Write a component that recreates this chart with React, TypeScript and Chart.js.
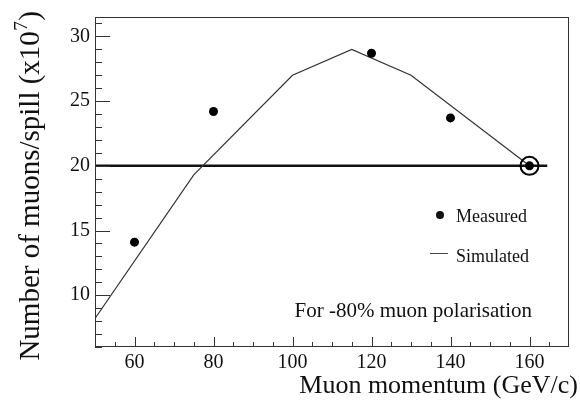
import React, { useEffect, useRef } from 'react';
import { Chart, registerables } from 'chart.js';
Chart.register(...registerables);

// ---- data ----
const simX = [50, 75, 100, 115, 130, 160];
const simY = [8.2, 19.3, 27, 29, 27, 20];
const measX = [60, 80, 120, 140, 160];
const measY = [14.1, 24.2, 28.7, 23.7, 20];
const refX = [50, 164.5];
const refY = [20, 20];
const markX = [160];
const markY = [20];
const xTicks = [60, 80, 100, 120, 140, 160];
const yTicks = [10, 15, 20, 25, 30];
const X_MIN = 50, X_MAX = 170, Y_MIN = 6, Y_MAX = 31.5;
const X_MINOR = 5, Y_MINOR = 1;
const xTitle = 'Muon momentum (GeV/c)';
const yTitleMain = 'Number of muons/spill (x10';
const yTitleSup = '7';
const yTitleEnd = ')';
const legendLabels = ['Measured', 'Simulated'];
const note = 'For -80% muon polarisation';

const SERIF = '"Liberation Serif", "DejaVu Serif", serif';

const decor = {
  id: 'decor',
  afterDraw(chart: any) {
    const { ctx, chartArea: a, scales } = chart;
    const xs = scales.x, ys = scales.y;
    ctx.save();
    // frame
    ctx.strokeStyle = '#333';
    ctx.lineWidth = 1;
    ctx.strokeRect(a.left + 0.5, a.top + 0.5, a.right - a.left - 1, a.bottom - a.top - 1);
    // ticks (inward)
    ctx.beginPath();
    for (let v = Math.ceil(Y_MIN); v <= Y_MAX; v += Y_MINOR) {
      const y = Math.round(ys.getPixelForValue(v)) + 0.5;
      const len = yTicks.includes(v) ? 15 : 7;
      ctx.moveTo(a.left, y);
      ctx.lineTo(a.left + len, y);
    }
    for (let v = X_MIN + X_MINOR; v < X_MAX; v += X_MINOR) {
      const x = Math.round(xs.getPixelForValue(v)) + 0.5;
      const len = xTicks.includes(v) ? 10 : 5;
      ctx.moveTo(x, a.bottom);
      ctx.lineTo(x, a.bottom - len);
    }
    ctx.stroke();

    ctx.fillStyle = '#111';
    // x title
    ctx.font = `26px ${SERIF}`;
    ctx.textAlign = 'right';
    ctx.textBaseline = 'alphabetic';
    ctx.fillText(xTitle, 578, 393);

    // y title (rotated)
    const FS = 29, SS = 19;
    ctx.save();
    ctx.font = `${FS}px ${SERIF}`;
    const w1 = ctx.measureText(yTitleMain).width;
    ctx.font = `${SS}px ${SERIF}`;
    const w2 = ctx.measureText(yTitleSup).width;
    ctx.font = `${FS}px ${SERIF}`;
    const w3 = ctx.measureText(yTitleEnd).width;
    const total = w1 + w2 + 1 + w3;
    ctx.translate(39, 11 + total);
    ctx.rotate(-Math.PI / 2);
    ctx.textAlign = 'left';
    ctx.fillText(yTitleMain, 0, 0);
    ctx.font = `${SS}px ${SERIF}`;
    ctx.fillText(yTitleSup, w1 + 0.5, -12);
    ctx.font = `${FS}px ${SERIF}`;
    ctx.fillText(yTitleEnd, w1 + w2 + 1, 0);
    ctx.restore();

    // legend
    ctx.font = `18px ${SERIF}`;
    ctx.textAlign = 'left';
    ctx.beginPath();
    ctx.arc(440, 215, 4, 0, Math.PI * 2);
    ctx.fill();
    ctx.fillText(legendLabels[0], 456, 222);
    ctx.strokeStyle = '#444';
    ctx.lineWidth = 1;
    ctx.beginPath();
    ctx.moveTo(430, 253.5);
    ctx.lineTo(448, 253.5);
    ctx.stroke();
    ctx.fillText(legendLabels[1], 456, 262);

    // note
    ctx.font = `21px ${SERIF}`;
    ctx.textAlign = 'right';
    ctx.fillText(note, 532, 317);
    ctx.restore();
  },
};

export default function App() {
  const ref = useRef<HTMLCanvasElement>(null);
  useEffect(() => {
    if (!ref.current) return;
    const chart = new Chart(ref.current, {
      type: 'scatter',
      data: {
        datasets: [
          {
            label: 'ref',
            type: 'line',
            data: refX.map((x, i) => ({ x, y: refY[i] })),
            borderColor: '#111',
            borderWidth: 2.5,
            pointRadius: 0,
            order: 3,
          },
          {
            label: 'Simulated',
            type: 'line',
            data: simX.map((x, i) => ({ x, y: simY[i] })),
            borderColor: '#333',
            borderWidth: 1.2,
            pointRadius: 0,
            tension: 0,
            order: 2,
          },
          {
            label: 'Measured',
            data: measX.map((x, i) => ({ x, y: measY[i] })),
            backgroundColor: '#000',
            borderColor: '#000',
            pointRadius: 4.5,
            borderWidth: 0,
            order: 1,
          },
          {
            label: 'mark',
            data: markX.map((x, i) => ({ x, y: markY[i] })),
            backgroundColor: 'rgba(0,0,0,0)',
            borderColor: '#000',
            pointRadius: 9,
            borderWidth: 2,
            order: 0,
          },
        ],
      },
      options: {
        responsive: false,
        animation: false,
        layout: { padding: { top: 12, right: 7, left: 0, bottom: 0 } },
        plugins: { legend: { display: false }, tooltip: { enabled: false } },
        scales: {
          x: {
            type: 'linear',
            min: X_MIN,
            max: X_MAX,
            grid: { display: false, drawTicks: false },
            border: { display: false },
            afterBuildTicks: (s: any) => { s.ticks = xTicks.map((v) => ({ value: v })); },
            afterFit: (s: any) => { s.height = 54; },
            ticks: { color: '#111', font: { family: SERIF, size: 20 }, padding: 4, maxRotation: 0 },
          },
          y: {
            type: 'linear',
            min: Y_MIN,
            max: Y_MAX,
            grid: { display: false, drawTicks: false },
            border: { display: false },
            afterBuildTicks: (s: any) => { s.ticks = yTicks.map((v) => ({ value: v })); },
            afterFit: (s: any) => { s.width = 95; },
            ticks: { color: '#111', font: { family: SERIF, size: 20 }, padding: 5 },
          },
        },
      },
      plugins: [decor],
    } as any);
    return () => chart.destroy();
  }, []);
  return (
    <div style={{ position: 'absolute', left: 0, top: 0, width: 580, height: 401, background: '#fff' }}>
      <canvas ref={ref} width={580} height={401} />
    </div>
  );
}
